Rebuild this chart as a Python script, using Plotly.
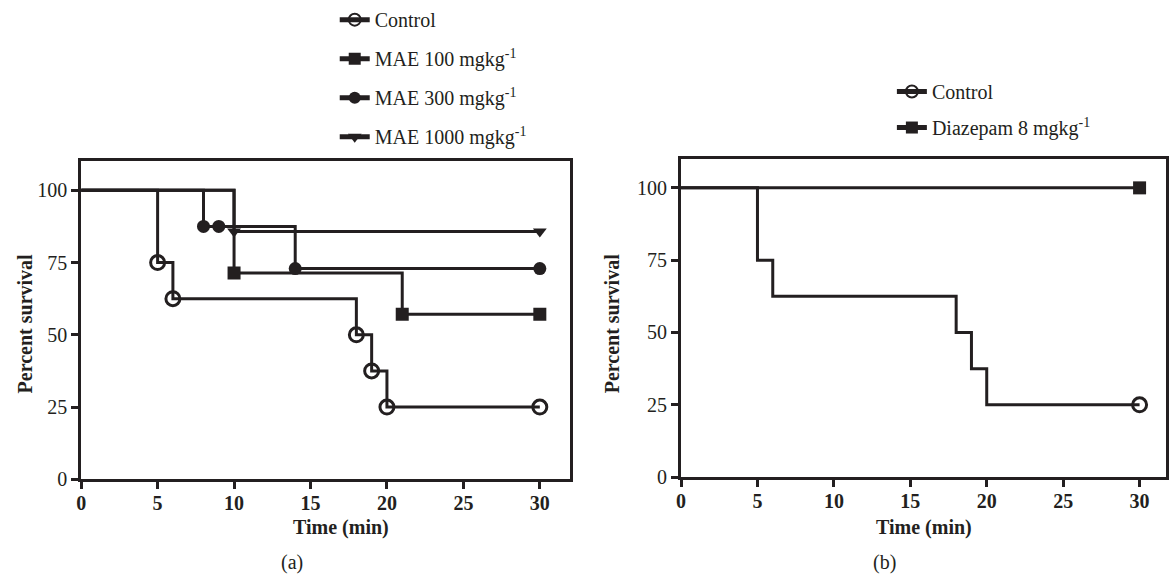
import plotly.graph_objects as go

# ---------------- data ----------------
time_ctrl = [0, 5, 6, 18, 19, 20, 30]
surv_ctrl = [100, 75, 62.5, 50, 37.5, 25, 25]

time_mae100 = [0, 10, 21, 30]
surv_mae100 = [100, 71.4, 57.1, 57.1]

time_mae300 = [0, 8, 9, 14, 30]
surv_mae300 = [100, 87.5, 87.5, 72.9, 72.9]

time_mae1000 = [0, 10, 30]
surv_mae1000 = [100, 85.7, 85.7]

time_diaz = [0, 30]
surv_diaz = [100, 100]

names_a = ["Control", "MAE 100 mgkg<sup>-1</sup>", "MAE 300 mgkg<sup>-1</sup>", "MAE 1000 mgkg<sup>-1</sup>"]
names_b = ["Control", "Diazepam 8 mgkg<sup>-1</sup>"]
x_ticks = [0, 5, 10, 15, 20, 25, 30]
y_ticks = [0, 25, 50, 75, 100]

# ---------------- style ----------------
INK = "#231f20"
FONT = "Liberation Serif"
W, H = 1169, 586
LW = 3


def sizes(n, s, hide_all_but_last=False):
    if hide_all_but_last:
        return [0] * (n - 1) + [s]
    return [0] + [s] * (n - 1)


fig = go.Figure()

specs_a = [
    (time_ctrl, surv_ctrl, names_a[0], "circle-open", 14),
    (time_mae100, surv_mae100, names_a[1], "square", 13),
    (time_mae300, surv_mae300, names_a[2], "circle", 13),
    (time_mae1000, surv_mae1000, names_a[3], "triangle-down", 12),
]
for i, (tx, sy, nm, sym, sz) in enumerate(specs_a):
    fig.add_trace(go.Scatter(
        x=tx, y=sy, name=nm, mode="lines+markers",
        line=dict(shape="hv", color=INK, width=LW),
        marker=dict(symbol=sym, size=sizes(len(tx), sz), color=INK, opacity=1,
                    line=dict(color=INK, width=3 if "open" in sym else 0)),
        xaxis="x", yaxis="y", legend="legend", legendgroup="a%d" % i,
    ))

specs_b = [
    (time_ctrl, surv_ctrl, names_b[0], "circle-open", 14),
    (time_diaz, surv_diaz, names_b[1], "square", 13),
]
for i, (tx, sy, nm, sym, sz) in enumerate(specs_b):
    fig.add_trace(go.Scatter(
        x=tx, y=sy, name=nm, mode="lines+markers",
        line=dict(shape="hv", color=INK, width=LW),
        marker=dict(symbol=sym, size=sizes(len(tx), sz, True), color=INK, opacity=1,
                    line=dict(color=INK, width=3 if "open" in sym else 0)),
        xaxis="x2", yaxis="y2", legend="legend2", legendgroup="b%d" % i,
    ))

axis_common = dict(
    showline=True, linewidth=LW, linecolor=INK, mirror=True,
    ticks="outside", ticklen=7, tickwidth=3, tickcolor=INK,
    showgrid=False, zeroline=False,
)
xfont = dict(family=FONT, size=20, color=INK, weight="bold")
yfont = dict(family=FONT, size=20, color=INK)


def px_x(p):
    return p / W


def px_y(p):
    return 1 - p / H


leg_font = dict(family=FONT, size=20, color=INK)

fig.update_layout(
    width=W, height=H, autosize=False,
    margin=dict(l=0, r=0, t=0, b=0),
    paper_bgcolor="white", plot_bgcolor="white",
    font=dict(family=FONT, size=20, color=INK),
    xaxis=dict(domain=[px_x(76.7), px_x(569.3)], range=[0, 32], tickvals=x_ticks,
               tickfont=xfont, anchor="y", ticklabelstandoff=-3, **axis_common),
    yaxis=dict(domain=[px_y(487.5), px_y(160)], range=[0, 110], tickvals=y_ticks,
               tickfont=yfont, anchor="x", **axis_common),
    xaxis2=dict(domain=[px_x(680.7), 1.0], range=[0, (W - 680.7) / 15.39], tickvals=x_ticks,
                tickfont=xfont, anchor="y2", ticklabelstandoff=-3, **axis_common),
    yaxis2=dict(domain=[px_y(485.2), px_y(157.5)], range=[0, 110], tickvals=y_ticks,
                tickfont=yfont, anchor="x2", **axis_common),
    legend=dict(x=px_x(332), y=px_y(-6), xanchor="left", yanchor="top",
                bgcolor="rgba(0,0,0,0)", font=leg_font,
                traceorder="grouped", tracegroupgap=10, itemsizing="constant"),
    legend2=dict(x=px_x(893), y=px_y(68), xanchor="left", yanchor="top",
                 bgcolor="rgba(0,0,0,0)", font=leg_font,
                 traceorder="grouped", tracegroupgap=7, itemsizing="constant"),
    showlegend=True,
)

title_font = dict(family=FONT, size=20, color=INK, weight="bold")
annots = [
    dict(text="Time (min)", x=px_x(338), y=px_y(537), font=title_font),
    dict(text="Time (min)", x=px_x(925), y=px_y(537), font=title_font),
    dict(text="Percent survival", x=px_x(20), y=px_y(327), font=title_font, textangle=-90),
    dict(text="Percent survival", x=px_x(611), y=px_y(327), font=title_font, textangle=-90),
    dict(text="(a)", x=px_x(289), y=px_y(573), font=dict(family=FONT, size=20, color=INK)),
    dict(text="(b)", x=px_x(886), y=px_y(573), font=dict(family=FONT, size=20, color=INK)),
]
for a in annots:
    fig.add_annotation(xref="paper", yref="paper", xanchor="center", yanchor="middle",
                       showarrow=False, **a)

fig.write_html("out.html")
